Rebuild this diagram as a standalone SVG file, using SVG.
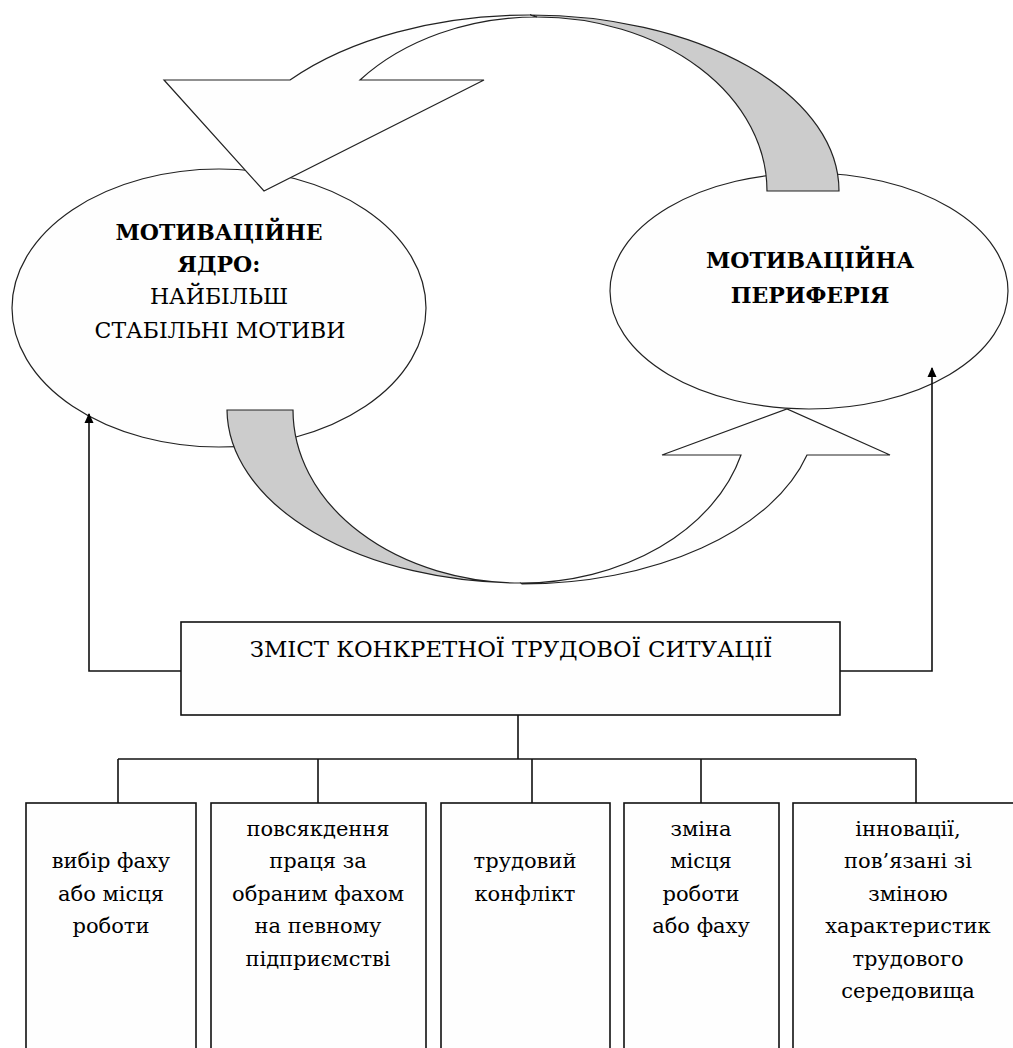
<svg xmlns="http://www.w3.org/2000/svg" width="1013" height="1048" viewBox="0 0 1013 1048">
<defs>
<style>
.shape{fill:#fefefe;stroke:#222;stroke-width:1.2}
.gray{fill:#cccccc;stroke:#222;stroke-width:1.2}
.box{fill:#fefefe;stroke:#111;stroke-width:1.6}
.conn{fill:none;stroke:#111;stroke-width:1.6}
.t{font-family:'DejaVu Serif','Liberation Serif',serif;font-size:22px;fill:#000;text-anchor:middle}
.s{font-size:21px}
.m{font-size:22.8px}
.b{font-weight:bold}
</style>
<marker id="ah" viewBox="0 0 10 10" refX="9" refY="5" markerWidth="10" markerHeight="10" markerUnits="userSpaceOnUse" orient="auto">
<path d="M0,0.5 L10,5 L0,9.5 Z" fill="#000"/>
</marker>
</defs>
<rect width="1013" height="1048" fill="#ffffff"/>

<g id="core">
<ellipse class="shape" cx="219" cy="308" rx="207" ry="139"/>
</g>
<g id="periphery">
<ellipse class="shape" cx="809" cy="291" rx="199" ry="118"/>
</g>

<g id="arrow-top">
<path class="gray" d="M530,15 A309,176 0 0 1 839,191 L767,191 A230,174 0 0 0 537,17 Z"/>
<path class="shape" d="M530,15 A309,176 0 0 0 290,80 L164,80 L264,191 L484,80 L360,80 A230,174 0 0 1 537,17 Z"/>
</g>
<g id="arrow-bottom">
<path class="gray" d="M227,410 L293,410 A228,173 0 0 0 521,583 A295,174 0 0 1 227,410 Z"/>
<path class="shape" d="M522,584 A295,174 0 0 0 807,455 L890,455 L787,409 L662,455 L741,455 A228,173 0 0 1 521,583 Z"/>
</g>

<g id="core-text">
<text class="t b" x="219" y="240">МОТИВАЦІЙНЕ</text>
<text class="t b" x="219" y="272">ЯДРО:</text>
<text class="t" x="219" y="304">НАЙБІЛЬШ</text>
<text class="t" x="220" y="338">СТАБІЛЬНІ МОТИВИ</text>
</g>
<g id="periphery-text">
<text class="t b" x="810" y="268">МОТИВАЦІЙНА</text>
<text class="t b" x="810" y="303">ПЕРИФЕРІЯ</text>
</g>

<g id="connectors">
<path class="conn" d="M181,671 H89 V414" marker-end="url(#ah)"/>
<path class="conn" d="M840,671 H932 V368" marker-end="url(#ah)"/>
<path class="conn" d="M518,715 V759"/>
<path class="conn" d="M118,759 H916"/>
<path class="conn" d="M118,759 V803"/>
<path class="conn" d="M318,759 V803"/>
<path class="conn" d="M532,759 V803"/>
<path class="conn" d="M701,759 V803"/>
<path class="conn" d="M916,759 V803"/>
</g>

<g id="situation">
<rect class="box" x="181" y="622" width="659" height="93"/>
<text class="t m" x="511" y="657">ЗМІСТ КОНКРЕТНОЇ ТРУДОВОЇ СИТУАЦІЇ</text>
</g>

<g id="box1">
<rect class="box" x="26" y="803" width="170" height="260"/>
<text class="t s" x="111" y="868">вибір фаху</text>
<text class="t s" x="111" y="901">або місця</text>
<text class="t s" x="111" y="933">роботи</text>
</g>
<g id="box2">
<rect class="box" x="211" y="803" width="215" height="260"/>
<text class="t s" x="318" y="836">повсякдення</text>
<text class="t s" x="318" y="868">праця за</text>
<text class="t s" x="318" y="901">обраним фахом</text>
<text class="t s" x="318" y="933">на певному</text>
<text class="t s" x="318" y="966">підприємстві</text>
</g>
<g id="box3">
<rect class="box" x="441" y="803" width="169" height="260"/>
<text class="t s" x="525" y="868">трудовий</text>
<text class="t s" x="525" y="901">конфлікт</text>
</g>
<g id="box4">
<rect class="box" x="624" y="803" width="155" height="260"/>
<text class="t s" x="701" y="836">зміна</text>
<text class="t s" x="701" y="868">місця</text>
<text class="t s" x="701" y="901">роботи</text>
<text class="t s" x="701" y="933">або фаху</text>
</g>
<g id="box5">
<rect class="box" x="793" y="803" width="235" height="260"/>
<text class="t s" x="908" y="836">інновації,</text>
<text class="t s" x="908" y="868">пов’язані зі</text>
<text class="t s" x="908" y="901">зміною</text>
<text class="t s" x="908" y="933">характеристик</text>
<text class="t s" x="908" y="966">трудового</text>
<text class="t s" x="908" y="998">середовища</text>
</g>
</svg>
